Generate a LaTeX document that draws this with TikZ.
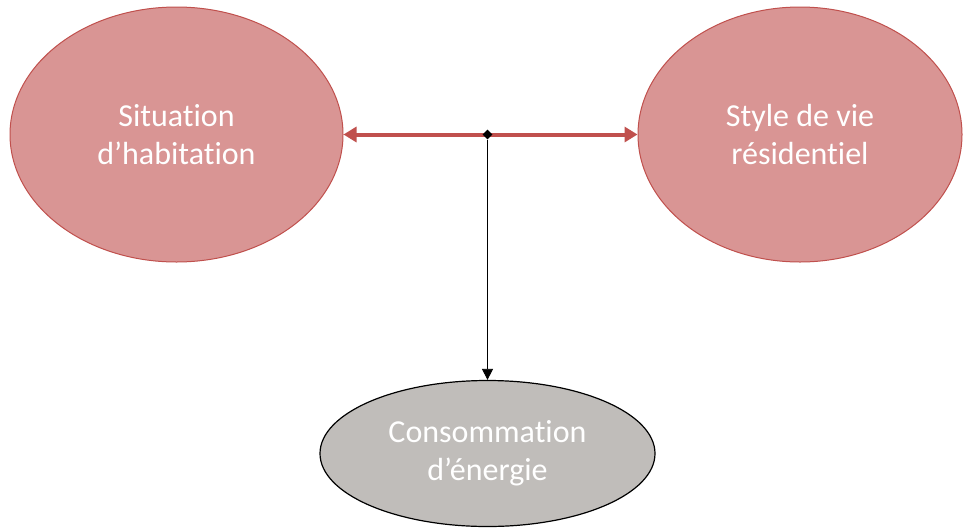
\documentclass[tikz,border=0pt]{standalone}
\usepackage{fontspec}
\setmainfont{Carlito}[Ligatures=NoCommon]
\usetikzlibrary{shapes.geometric,arrows.meta}
\definecolor{pinkfill}{HTML}{D99594}
\definecolor{redline}{HTML}{C0504D}
\definecolor{grayfill}{HTML}{C0BDBA}
\tikzset{
  pinkell/.style={ellipse, draw=redline, line width=1pt, fill=pinkfill, text=white,
    align=center, inner sep=0pt, font=\fontsize{32pt}{38pt}\selectfont},
  grayell/.style={ellipse, draw=black, line width=1.2pt, fill=grayfill, text=white,
    align=center, inner sep=0pt, font=\fontsize{32pt}{38pt}\selectfont},
  redarrow/.style={draw=redline, line width=4pt, {Triangle[length=13pt,width=15pt]}-{Triangle[length=13pt,width=15pt]}},
  thinarrow/.style={draw=black, line width=0.8pt, -{Triangle[length=11pt,width=11pt]}},
  junction/.style={diamond, fill=black, minimum size=10pt, inner sep=0pt}
}
\begin{document}
\begin{tikzpicture}[x=1pt,y=1pt]
\useasboundingbox[fill=white] (0,0) rectangle (966,-528);
\node[pinkell, minimum width=333pt, minimum height=255pt] (L) at (176.5,-134.5) {Situation\\d’habitation};
\node[pinkell, minimum width=324pt, minimum height=255pt] (R) at (800,-134.5) {Style de vie\\résidentiel};
\node[grayell, minimum width=335pt, minimum height=146pt] (C) at (487.5,-453.5) {Consommation\\d’énergie};
\draw[redarrow] (L.east) -- (R.west);
\node[junction] (J) at (487.5,-134.5) {};
\draw[thinarrow] (J.south) -- (C.north);
\end{tikzpicture}
\end{document}
